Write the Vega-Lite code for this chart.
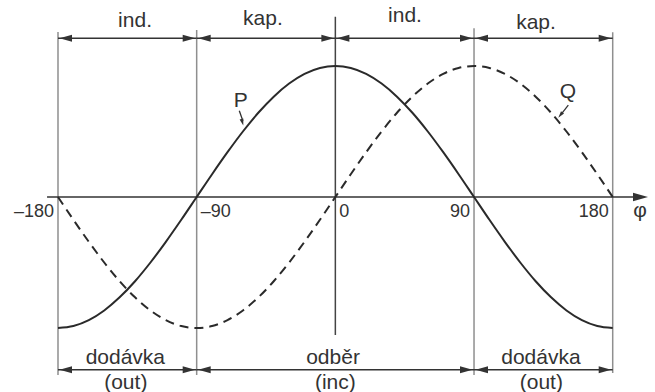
{
  "$schema": "https://vega.github.io/schema/vega-lite/v6.json",
  "width": 655,
  "height": 392,
  "autosize": {"type": "none"},
  "padding": 0,
  "background": "white",
  "config": {"view": {"stroke": null}, "text": {"font": "Liberation Sans", "color": "#333333"}},
  "datasets": {
    "curve": [
      {"phi": -180, "P": -1, "Q": 0},
      {"phi": -170, "P": -0.985, "Q": -0.174},
      {"phi": -160, "P": -0.94, "Q": -0.342},
      {"phi": -150, "P": -0.866, "Q": -0.5},
      {"phi": -140, "P": -0.766, "Q": -0.643},
      {"phi": -130, "P": -0.643, "Q": -0.766},
      {"phi": -120, "P": -0.5, "Q": -0.866},
      {"phi": -110, "P": -0.342, "Q": -0.94},
      {"phi": -100, "P": -0.174, "Q": -0.985},
      {"phi": -90, "P": 0, "Q": -1},
      {"phi": -80, "P": 0.174, "Q": -0.985},
      {"phi": -70, "P": 0.342, "Q": -0.94},
      {"phi": -60, "P": 0.5, "Q": -0.866},
      {"phi": -50, "P": 0.643, "Q": -0.766},
      {"phi": -40, "P": 0.766, "Q": -0.643},
      {"phi": -30, "P": 0.866, "Q": -0.5},
      {"phi": -20, "P": 0.94, "Q": -0.342},
      {"phi": -10, "P": 0.985, "Q": -0.174},
      {"phi": 0, "P": 1, "Q": 0},
      {"phi": 10, "P": 0.985, "Q": 0.174},
      {"phi": 20, "P": 0.94, "Q": 0.342},
      {"phi": 30, "P": 0.866, "Q": 0.5},
      {"phi": 40, "P": 0.766, "Q": 0.643},
      {"phi": 50, "P": 0.643, "Q": 0.766},
      {"phi": 60, "P": 0.5, "Q": 0.866},
      {"phi": 70, "P": 0.342, "Q": 0.94},
      {"phi": 80, "P": 0.174, "Q": 0.985},
      {"phi": 90, "P": 0, "Q": 1},
      {"phi": 100, "P": -0.174, "Q": 0.985},
      {"phi": 110, "P": -0.342, "Q": 0.94},
      {"phi": 120, "P": -0.5, "Q": 0.866},
      {"phi": 130, "P": -0.643, "Q": 0.766},
      {"phi": 140, "P": -0.766, "Q": 0.643},
      {"phi": 150, "P": -0.866, "Q": 0.5},
      {"phi": 160, "P": -0.94, "Q": 0.342},
      {"phi": 170, "P": -0.985, "Q": 0.174},
      {"phi": 180, "P": -1, "Q": 0}
    ],
    "vlines": [
      {"phi": -180, "top": 1.26, "bot": -1.359},
      {"phi": -90, "top": 1.275, "bot": -1.359},
      {"phi": 0, "top": 1.376, "bot": -1.053},
      {"phi": 90, "top": 1.288, "bot": -1.359},
      {"phi": 180, "top": 1.257, "bot": -1.344}
    ],
    "spans": [
      {"a": -180, "b": -90, "lv": 1.211},
      {"a": -90, "b": 0, "lv": 1.211},
      {"a": 0, "b": 90, "lv": 1.211},
      {"a": 90, "b": 180, "lv": 1.211},
      {"a": -180, "b": -90, "lv": -1.319},
      {"a": -90, "b": 90, "lv": -1.319},
      {"a": 90, "b": 180, "lv": -1.319}
    ],
    "labels": [
      {"x": -130.0, "y": 1.3, "t": "ind."},
      {"x": -47.0, "y": 1.313, "t": "kap."},
      {"x": 45.2, "y": 1.338, "t": "ind."},
      {"x": 130.2, "y": 1.28, "t": "kap."},
      {"x": -136.3, "y": -1.275, "t": "dodávka"},
      {"x": -1.5, "y": -1.275, "t": "odběr"},
      {"x": 133.4, "y": -1.275, "t": "dodávka"},
      {"x": -136.0, "y": -1.462, "t": "(out)"},
      {"x": 0, "y": -1.462, "t": "(inc)"},
      {"x": 133.7, "y": -1.462, "t": "(out)"},
      {"x": -61.4, "y": 0.689, "t": "P"},
      {"x": 151.0, "y": 0.752, "t": "Q"}
    ],
    "ticksR": [
      {"phi": -180, "t": "–180"},
      {"phi": 90, "t": "90"},
      {"phi": 180, "t": "180"}
    ],
    "ticksL": [
      {"phi": -90, "t": "–90"},
      {"phi": 0, "t": "0"}
    ],
    "one": [{"k": 1}]
  },
  "layer": [
    {
      "data": {"name": "vlines"},
      "mark": {"type": "rule", "strokeWidth": 1.5},
      "encoding": {
        "x": {"field": "phi", "type": "quantitative", "scale": {"domain": [-217.64, 207.45], "nice": false, "zero": false}, "axis": null},
        "y": {"field": "top", "type": "quantitative", "scale": {"domain": [-1.4885, 1.5038], "nice": false, "zero": false}, "axis": null},
        "y2": {"field": "bot"},
        "stroke": {"condition": {"test": "datum.phi === 0", "value": "#444444"}, "value": "#8f8f8f"}
      }
    },
    {
      "data": {"name": "one"},
      "mark": {"type": "rule", "strokeWidth": 1.6, "stroke": "#333333"},
      "encoding": {
        "x": {"datum": -187.1, "type": "quantitative", "scale": {"domain": [-217.64, 207.45], "nice": false, "zero": false}, "axis": null},
        "x2": {"datum": 195},
        "y": {"datum": 0, "type": "quantitative", "scale": {"domain": [-1.4885, 1.5038], "nice": false, "zero": false}, "axis": null}
      }
    },
    {
      "data": {"name": "one"},
      "mark": {"type": "point", "shape": "M0,0L-2.5,-0.7L-2.5,0.7Z", "size": 144, "filled": true, "fill": "#333333", "strokeWidth": 0, "opacity": 1},
      "encoding": {
        "x": {"datum": 202.9, "type": "quantitative", "scale": {"domain": [-217.64, 207.45], "nice": false, "zero": false}, "axis": null},
        "y": {"datum": 0, "type": "quantitative", "scale": {"domain": [-1.4885, 1.5038], "nice": false, "zero": false}, "axis": null}
      }
    },
    {
      "data": {"name": "curve"},
      "mark": {"type": "line", "interpolate": "monotone", "stroke": "#2a2a2a", "strokeWidth": 2},
      "encoding": {
        "x": {"field": "phi", "type": "quantitative", "scale": {"domain": [-217.64, 207.45], "nice": false, "zero": false}, "axis": null},
        "y": {"field": "P", "type": "quantitative", "scale": {"domain": [-1.4885, 1.5038], "nice": false, "zero": false}, "axis": null}
      }
    },
    {
      "data": {"name": "curve"},
      "mark": {"type": "line", "interpolate": "monotone", "stroke": "#2a2a2a", "strokeWidth": 2, "strokeDash": [9, 6]},
      "encoding": {
        "x": {"field": "phi", "type": "quantitative", "scale": {"domain": [-217.64, 207.45], "nice": false, "zero": false}, "axis": null},
        "y": {"field": "Q", "type": "quantitative", "scale": {"domain": [-1.4885, 1.5038], "nice": false, "zero": false}, "axis": null}
      }
    },
    {
      "data": {"name": "spans"},
      "mark": {"type": "rule", "strokeWidth": 1.5, "stroke": "#333333"},
      "encoding": {
        "x": {"field": "a", "type": "quantitative", "scale": {"domain": [-217.64, 207.45], "nice": false, "zero": false}, "axis": null},
        "x2": {"field": "b"},
        "y": {"field": "lv", "type": "quantitative", "scale": {"domain": [-1.4885, 1.5038], "nice": false, "zero": false}, "axis": null}
      }
    },
    {
      "data": {"name": "spans"},
      "mark": {"type": "point", "shape": "M0,0L-2.5,-0.7L-2.5,0.7Z", "size": 100, "angle": 180, "filled": true, "fill": "#333333", "strokeWidth": 0, "opacity": 1, "xOffset": 1.5},
      "encoding": {
        "x": {"field": "a", "type": "quantitative", "scale": {"domain": [-217.64, 207.45], "nice": false, "zero": false}, "axis": null},
        "y": {"field": "lv", "type": "quantitative", "scale": {"domain": [-1.4885, 1.5038], "nice": false, "zero": false}, "axis": null}
      }
    },
    {
      "data": {"name": "spans"},
      "mark": {"type": "point", "shape": "M0,0L-2.5,-0.7L-2.5,0.7Z", "size": 100, "angle": 0, "filled": true, "fill": "#333333", "strokeWidth": 0, "opacity": 1, "xOffset": -1.5},
      "encoding": {
        "x": {"field": "b", "type": "quantitative", "scale": {"domain": [-217.64, 207.45], "nice": false, "zero": false}, "axis": null},
        "y": {"field": "lv", "type": "quantitative", "scale": {"domain": [-1.4885, 1.5038], "nice": false, "zero": false}, "axis": null}
      }
    },
    {
      "data": {"name": "labels"},
      "mark": {"type": "text", "fontSize": 21, "align": "center", "baseline": "alphabetic"},
      "encoding": {
        "x": {"field": "x", "type": "quantitative", "scale": {"domain": [-217.64, 207.45], "nice": false, "zero": false}, "axis": null},
        "y": {"field": "y", "type": "quantitative", "scale": {"domain": [-1.4885, 1.5038], "nice": false, "zero": false}, "axis": null},
        "text": {"field": "t"}
      }
    },
    {
      "data": {"name": "ticksR"},
      "mark": {"type": "text", "fontSize": 18, "align": "right", "baseline": "alphabetic", "dx": -4},
      "encoding": {
        "x": {"field": "phi", "type": "quantitative", "scale": {"domain": [-217.64, 207.45], "nice": false, "zero": false}, "axis": null},
        "y": {"datum": -0.15, "type": "quantitative", "scale": {"domain": [-1.4885, 1.5038], "nice": false, "zero": false}, "axis": null},
        "text": {"field": "t"}
      }
    },
    {
      "data": {"name": "ticksL"},
      "mark": {"type": "text", "fontSize": 18, "align": "left", "baseline": "alphabetic", "dx": 4},
      "encoding": {
        "x": {"field": "phi", "type": "quantitative", "scale": {"domain": [-217.64, 207.45], "nice": false, "zero": false}, "axis": null},
        "y": {"datum": -0.15, "type": "quantitative", "scale": {"domain": [-1.4885, 1.5038], "nice": false, "zero": false}, "axis": null},
        "text": {"field": "t"}
      }
    },
    {
      "data": {"name": "one"},
      "mark": {"type": "text", "fontSize": 21, "align": "center", "baseline": "alphabetic", "text": "φ"},
      "encoding": {
        "x": {"datum": 197.7, "type": "quantitative", "scale": {"domain": [-217.64, 207.45], "nice": false, "zero": false}, "axis": null},
        "y": {"datum": -0.15, "type": "quantitative", "scale": {"domain": [-1.4885, 1.5038], "nice": false, "zero": false}, "axis": null}
      }
    },
    {
      "data": {"name": "one"},
      "mark": {"type": "rule", "strokeWidth": 1.3, "stroke": "#333333"},
      "encoding": {
        "x": {"datum": -62.34, "type": "quantitative", "scale": {"domain": [-217.64, 207.45], "nice": false, "zero": false}, "axis": null},
        "x2": {"datum": -60.0},
        "y": {"datum": 0.659, "type": "quantitative", "scale": {"domain": [-1.4885, 1.5038], "nice": false, "zero": false}, "axis": null},
        "y2": {"datum": 0.58}
      }
    },
    {
      "data": {"name": "one"},
      "mark": {"type": "point", "shape": "M0,0L-2.5,-0.7L-2.5,0.7Z", "size": 30, "angle": 74.4, "filled": true, "fill": "#333333", "strokeWidth": 0, "opacity": 1},
      "encoding": {
        "x": {"datum": -59.74, "type": "quantitative", "scale": {"domain": [-217.64, 207.45], "nice": false, "zero": false}, "axis": null},
        "y": {"datum": 0.545, "type": "quantitative", "scale": {"domain": [-1.4885, 1.5038], "nice": false, "zero": false}, "axis": null}
      }
    },
    {
      "data": {"name": "one"},
      "mark": {"type": "rule", "strokeWidth": 1.3, "stroke": "#333333"},
      "encoding": {
        "x": {"datum": 151.19, "type": "quantitative", "scale": {"domain": [-217.64, 207.45], "nice": false, "zero": false}, "axis": null},
        "x2": {"datum": 146.5},
        "y": {"datum": 0.702, "type": "quantitative", "scale": {"domain": [-1.4885, 1.5038], "nice": false, "zero": false}, "axis": null},
        "y2": {"datum": 0.63}
      }
    },
    {
      "data": {"name": "one"},
      "mark": {"type": "point", "shape": "M0,0L-2.5,-0.7L-2.5,0.7Z", "size": 30, "angle": 128.2, "filled": true, "fill": "#333333", "strokeWidth": 0, "opacity": 1},
      "encoding": {
        "x": {"datum": 144.69, "type": "quantitative", "scale": {"domain": [-217.64, 207.45], "nice": false, "zero": false}, "axis": null},
        "y": {"datum": 0.605, "type": "quantitative", "scale": {"domain": [-1.4885, 1.5038], "nice": false, "zero": false}, "axis": null}
      }
    }
  ]
}
